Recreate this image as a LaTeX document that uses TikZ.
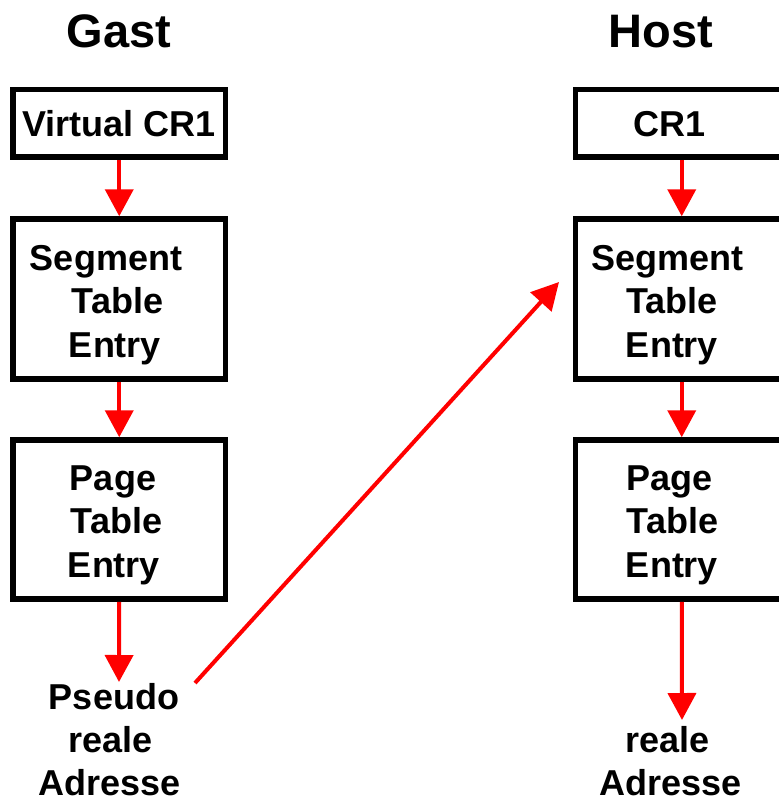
\documentclass[tikz,border=0pt]{standalone}
\usepackage{fontspec}
\setmainfont{Liberation Sans}
\usetikzlibrary{arrows.meta}

\tikzset{
  tablebox/.style={draw, line width=5.5pt, minimum width=212.5pt, inner sep=0pt},
  lbl/.style={anchor=base, inner sep=0pt, font=\fontsize{36}{43.5}\selectfont\bfseries},
  ttl/.style={anchor=base, inner sep=0pt, font=\fontsize{47}{56}\selectfont\bfseries},
  walk/.style={draw=red, line width=4pt, -{Triangle[length=27pt,width=28pt]}}
}

\begin{document}
\begin{tikzpicture}[x=1pt, y=-1pt]
  \useasboundingbox (0,0) rectangle (779,801);

  % column titles
  \node[ttl] (gast) at (119,47) {Gast};
  \node[ttl] (host) at (661,47) {Host};

  % guest translation chain
  \node[tablebox, minimum height=67.3pt] (g1) at (119.25,123.35) {};
  \node[tablebox, minimum height=160pt]  (g2) at (119.25,299) {};
  \node[tablebox, minimum height=159pt]  (g3) at (119.25,519.5) {};

  \node[lbl] (g1a) at (119,136.5) {Virtual CR1};
  \node[lbl] (g2a) at (106,270) {Segment};
  \node[lbl] (g2b) at (117.5,313.5) {Table};
  \node[lbl] (g2c) at (115,357) {Entry};
  \node[lbl] (g3a) at (113,490) {Page};
  \node[lbl] (g3b) at (116.5,533.5) {Table};
  \node[lbl] (g3c) at (114,577.5) {Entry};
  \node[lbl] (g4a) at (114,709) {Pseudo};
  \node[lbl] (g4b) at (110.5,752.5) {reale};
  \node[lbl] (g4c) at (110,795.5) {Adresse};

  % host translation chain (boxes run past the right edge)
  \node[tablebox, minimum height=67.3pt] (h1) at (681.75,123.35) {};
  \node[tablebox, minimum height=160pt]  (h2) at (681.75,299) {};
  \node[tablebox, minimum height=159pt]  (h3) at (681.75,519.5) {};

  \node[lbl] (h1a) at (669.5,136.5) {CR1};
  \node[lbl] (h2a) at (667.5,270) {Segment};
  \node[lbl] (h2b) at (672,313.5) {Table};
  \node[lbl] (h2c) at (672,357) {Entry};
  \node[lbl] (h3a) at (669.5,490) {Page};
  \node[lbl] (h3b) at (672.5,533.5) {Table};
  \node[lbl] (h3c) at (672,577.5) {Entry};
  \node[lbl] (h4b) at (667.5,752.5) {reale};
  \node[lbl] (h4c) at (670.5,795.5) {Adresse};

  % free ends of connectors
  \coordinate (gend) at (119,682);
  \coordinate (hend) at (682,720);
  \coordinate (pseudo) at (195,683);
  \coordinate (hseg) at (559,282);

  % connectors
  \draw[walk] (g1.south) -- (g2.north);
  \draw[walk] (g2.south) -- (g3.north);
  \draw[walk] (g3.south) -- (gend);

  \draw[walk] (h1.south) -- (h2.north);
  \draw[walk] (h2.south) -- (h3.north);
  \draw[walk] (h3.south) -- (hend);

  \draw[walk] (pseudo) -- (hseg);
\end{tikzpicture}
\end{document}
